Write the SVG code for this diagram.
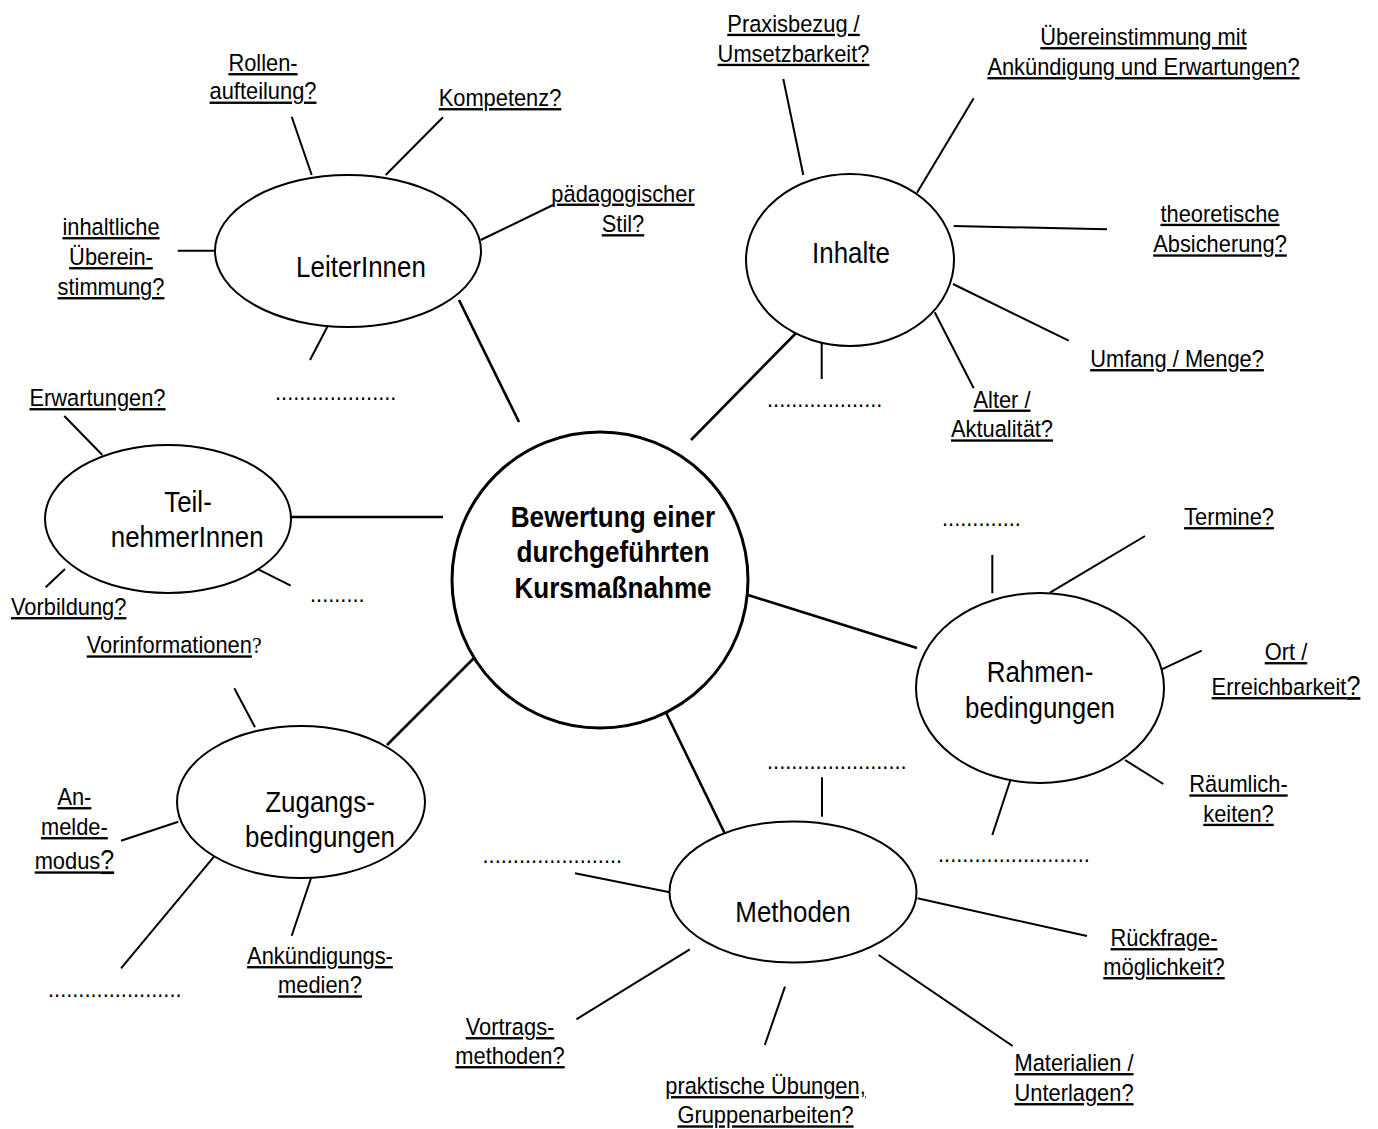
<svg xmlns="http://www.w3.org/2000/svg" width="1378" height="1129" viewBox="0 0 1378 1129">
<style>
.bg{fill:#fff}
.node{fill:#fff;stroke:#000;stroke-width:2}
.center{fill:#fff;stroke:#000;stroke-width:3}
.main{stroke:#000;stroke-width:2.6;fill:none}
.sub{stroke:#000;stroke-width:2;fill:none}
.lbl{font-family:"Liberation Sans",Arial,sans-serif;font-size:23.5px;text-anchor:middle;text-decoration:underline;text-decoration-skip-ink:none;text-underline-offset:3px;fill:#000}
.plain{font-family:"Liberation Sans",Arial,sans-serif;font-size:23.5px;fill:#000}
.ul{text-decoration:underline;text-decoration-skip-ink:none;text-underline-offset:3px}
.ntx{font-family:"Liberation Sans",Arial,sans-serif;font-size:30px;text-anchor:middle;fill:#000}
.ctx{font-family:"Liberation Sans",Arial,sans-serif;font-size:30px;font-weight:bold;text-anchor:middle;fill:#000}
.dots{font-family:"Liberation Sans",Arial,sans-serif;font-size:23.5px;fill:#000}
.big{font-size:27px}
.ser{font-family:"Liberation Serif","Times New Roman",serif}
</style>
<rect class="bg" x="0" y="0" width="1378" height="1129"/>
<g id="connectors">
<line class="main" x1="519" y1="422" x2="459" y2="300"/>
<line class="main" x1="691" y1="440" x2="802" y2="327"/>
<line class="main" x1="291" y1="517" x2="443" y2="517"/>
<line class="main" x1="748" y1="595" x2="917" y2="648"/>
<line class="main" x1="655" y1="690" x2="727" y2="838"/>
<line class="main" x1="481" y1="651" x2="387" y2="745"/>
<line class="sub" x1="291.7" y1="116.7" x2="311.7" y2="175"/>
<line class="sub" x1="443" y1="117.3" x2="385.7" y2="175"/>
<line class="sub" x1="480.7" y1="240" x2="553" y2="205"/>
<line class="sub" x1="177.7" y1="250.7" x2="215" y2="250.7"/>
<line class="sub" x1="330" y1="321.7" x2="310" y2="360"/>
<line class="sub" x1="783.3" y1="79" x2="803.3" y2="175"/>
<line class="sub" x1="973.7" y1="98.3" x2="917" y2="192.7"/>
<line class="sub" x1="953.7" y1="226" x2="1107" y2="229.3"/>
<line class="sub" x1="953" y1="284" x2="1068.7" y2="340.7"/>
<line class="sub" x1="934.7" y1="312.3" x2="973.7" y2="388.3"/>
<line class="sub" x1="821.7" y1="340.7" x2="821.7" y2="379"/>
<line class="sub" x1="64.3" y1="416" x2="102.3" y2="455"/>
<line class="sub" x1="45.7" y1="587.3" x2="65" y2="569"/>
<line class="sub" x1="254.3" y1="567.3" x2="290.7" y2="585.7"/>
<line class="sub" x1="234.3" y1="688.3" x2="255" y2="727.3"/>
<line class="sub" x1="121" y1="840.7" x2="178.3" y2="821.7"/>
<line class="sub" x1="121" y1="968.3" x2="216.7" y2="853.3"/>
<line class="sub" x1="311" y1="878.3" x2="291.7" y2="935.7"/>
<line class="sub" x1="822" y1="777.3" x2="822" y2="816.7"/>
<line class="sub" x1="575" y1="873.3" x2="669.7" y2="892.3"/>
<line class="sub" x1="917.5" y1="898.3" x2="1087" y2="936"/>
<line class="sub" x1="689.8" y1="949.3" x2="576.4" y2="1019.3"/>
<line class="sub" x1="785" y1="986.7" x2="764.8" y2="1045"/>
<line class="sub" x1="878.7" y1="955" x2="1012.6" y2="1046"/>
<line class="sub" x1="992.3" y1="555" x2="992.3" y2="593.3"/>
<line class="sub" x1="1050" y1="592.7" x2="1145" y2="536"/>
<line class="sub" x1="1161.7" y1="669.3" x2="1201.7" y2="650.7"/>
<line class="sub" x1="1125" y1="760" x2="1163.3" y2="784"/>
<line class="sub" x1="1011" y1="778.3" x2="992.3" y2="835"/>
</g>
<g id="center">
<circle class="center" cx="600" cy="580" r="148"/>
<text class="ctx" transform="translate(613,527) scale(0.87,1)"><tspan x="0" y="0">Bewertung einer</tspan><tspan x="0" y="35">durchgeführten</tspan><tspan x="0" y="71">Kursmaßnahme</tspan></text>
</g>
<g id="leiterinnen">
<ellipse class="node" cx="348" cy="251" rx="133" ry="76"/>
<text class="ntx" transform="translate(361,277) scale(0.865,1)">LeiterInnen</text>
</g>
<g id="inhalte">
<ellipse class="node" cx="850" cy="260" rx="104" ry="86"/>
<text class="ntx" transform="translate(851,263.3) scale(0.865,1)">Inhalte</text>
</g>
<g id="teilnehmerinnen">
<ellipse class="node" cx="168" cy="519" rx="123" ry="74"/>
<text class="ntx" transform="translate(188,512) scale(0.865,1)"><tspan x="0" y="0">Teil-</tspan><tspan x="-1" y="35">nehmerInnen</tspan></text>
</g>
<g id="rahmenbedingungen">
<ellipse class="node" cx="1040" cy="688" rx="124" ry="95"/>
<text class="ntx" transform="translate(1040,682) scale(0.865,1)"><tspan x="0" y="0">Rahmen-</tspan><tspan x="0" y="36">bedingungen</tspan></text>
</g>
<g id="zugangsbedingungen">
<ellipse class="node" cx="301" cy="802" rx="124" ry="76"/>
<text class="ntx" transform="translate(320,812) scale(0.865,1)"><tspan x="0" y="0">Zugangs-</tspan><tspan x="0" y="35">bedingungen</tspan></text>
</g>
<g id="methoden">
<ellipse class="node" cx="793" cy="892" rx="123.5" ry="70.5"/>
<text class="ntx" transform="translate(793,921.7) scale(0.865,1)">Methoden</text>
</g>
<g id="labels">
<text class="lbl" transform="translate(263,71) scale(0.93,1)"><tspan x="0" y="0">Rollen-</tspan><tspan x="0" y="28.5">aufteilung?</tspan></text>
<text class="lbl" transform="translate(500,106) scale(0.93,1)">Kompetenz?</text>
<text class="lbl" transform="translate(623,201.5) scale(0.93,1)"><tspan x="0" y="0">pädagogischer</tspan><tspan x="0" y="30.6">Stil?</tspan></text>
<text class="lbl" transform="translate(111,235) scale(0.93,1)"><tspan x="0" y="0">inhaltliche</tspan><tspan x="0" y="30">Überein-</tspan><tspan x="0" y="60">stimmung?</tspan></text>
<text class="lbl" transform="translate(793.5,31.7) scale(0.93,1)"><tspan x="0" y="0">Praxisbezug /</tspan><tspan x="0" y="30">Umsetzbarkeit?</tspan></text>
<text class="lbl" transform="translate(1143.5,45) scale(0.93,1)"><tspan x="0" y="0">Übereinstimmung mit</tspan><tspan x="0" y="30">Ankündigung und Erwartungen?</tspan></text>
<text class="lbl" transform="translate(1220,221.7) scale(0.93,1)"><tspan x="0" y="0">theoretische</tspan><tspan x="0" y="30.6">Absicherung?</tspan></text>
<text class="lbl" transform="translate(1177,367) scale(0.93,1)">Umfang / Menge?</text>
<text class="lbl" transform="translate(1002,407.5) scale(0.93,1)"><tspan x="0" y="0">Alter /</tspan><tspan x="0" y="29.8">Aktualität?</tspan></text>
<text class="lbl" transform="translate(97.5,406) scale(0.93,1)">Erwartungen?</text>
<text class="lbl" transform="translate(68.7,615) scale(0.93,1)">Vorbildung?</text>
<text class="plain" transform="translate(86.7,653.3) scale(0.93,1)"><tspan class="ul">Vorinformationen</tspan><tspan class="ser">?</tspan></text>
<text class="lbl" transform="translate(74.4,805) scale(0.93,1)"><tspan x="0" y="0">An-</tspan><tspan x="0" y="30">melde-</tspan><tspan x="0" y="64.3">modus<tspan class="big">?</tspan></tspan></text>
<text class="lbl" transform="translate(320,964) scale(0.93,1)"><tspan x="0" y="0">Ankündigungs-</tspan><tspan x="0" y="29.3">medien?</tspan></text>
<text class="lbl" transform="translate(1229,525) scale(0.93,1)">Termine?</text>
<text class="lbl" transform="translate(1286,660) scale(0.93,1)"><tspan x="0" y="0">Ort /</tspan><tspan x="0" y="35">Erreichbarkeit<tspan class="big">?</tspan></tspan></text>
<text class="lbl" transform="translate(1238.5,792.3) scale(0.93,1)"><tspan x="0" y="0">Räumlich-</tspan><tspan x="0" y="29.4">keiten?</tspan></text>
<text class="lbl" transform="translate(1164,946) scale(0.93,1)"><tspan x="0" y="0">Rückfrage-</tspan><tspan x="0" y="29">möglichkeit?</tspan></text>
<text class="lbl" transform="translate(1074,1071) scale(0.93,1)"><tspan x="0" y="0">Materialien /</tspan><tspan x="0" y="30">Unterlagen?</tspan></text>
<text class="lbl" transform="translate(765.5,1094) scale(0.93,1)"><tspan x="0" y="0">praktische Übungen,</tspan><tspan x="0" y="29.3">Gruppenarbeiten?</tspan></text>
<text class="lbl" transform="translate(510,1035) scale(0.93,1)"><tspan x="0" y="0">Vortrags-</tspan><tspan x="0" y="29">methoden?</tspan></text>
</g>
<g id="dots">
<text class="dots" transform="translate(275,399.5) scale(0.93,1)">....................</text>
<text class="dots" transform="translate(767,407) scale(0.93,1)">...................</text>
<text class="dots" transform="translate(310,602) scale(0.93,1)">.........</text>
<text class="dots" transform="translate(48,996.5) scale(0.93,1)">......................</text>
<text class="dots" transform="translate(942,526) scale(0.93,1)">.............</text>
<text class="dots" transform="translate(938,862) scale(0.93,1)">.........................</text>
<text class="dots" transform="translate(767,769) scale(0.93,1)">.......................</text>
<text class="dots" transform="translate(482.5,863) scale(0.93,1)">.......................</text>
</g>
</svg>
